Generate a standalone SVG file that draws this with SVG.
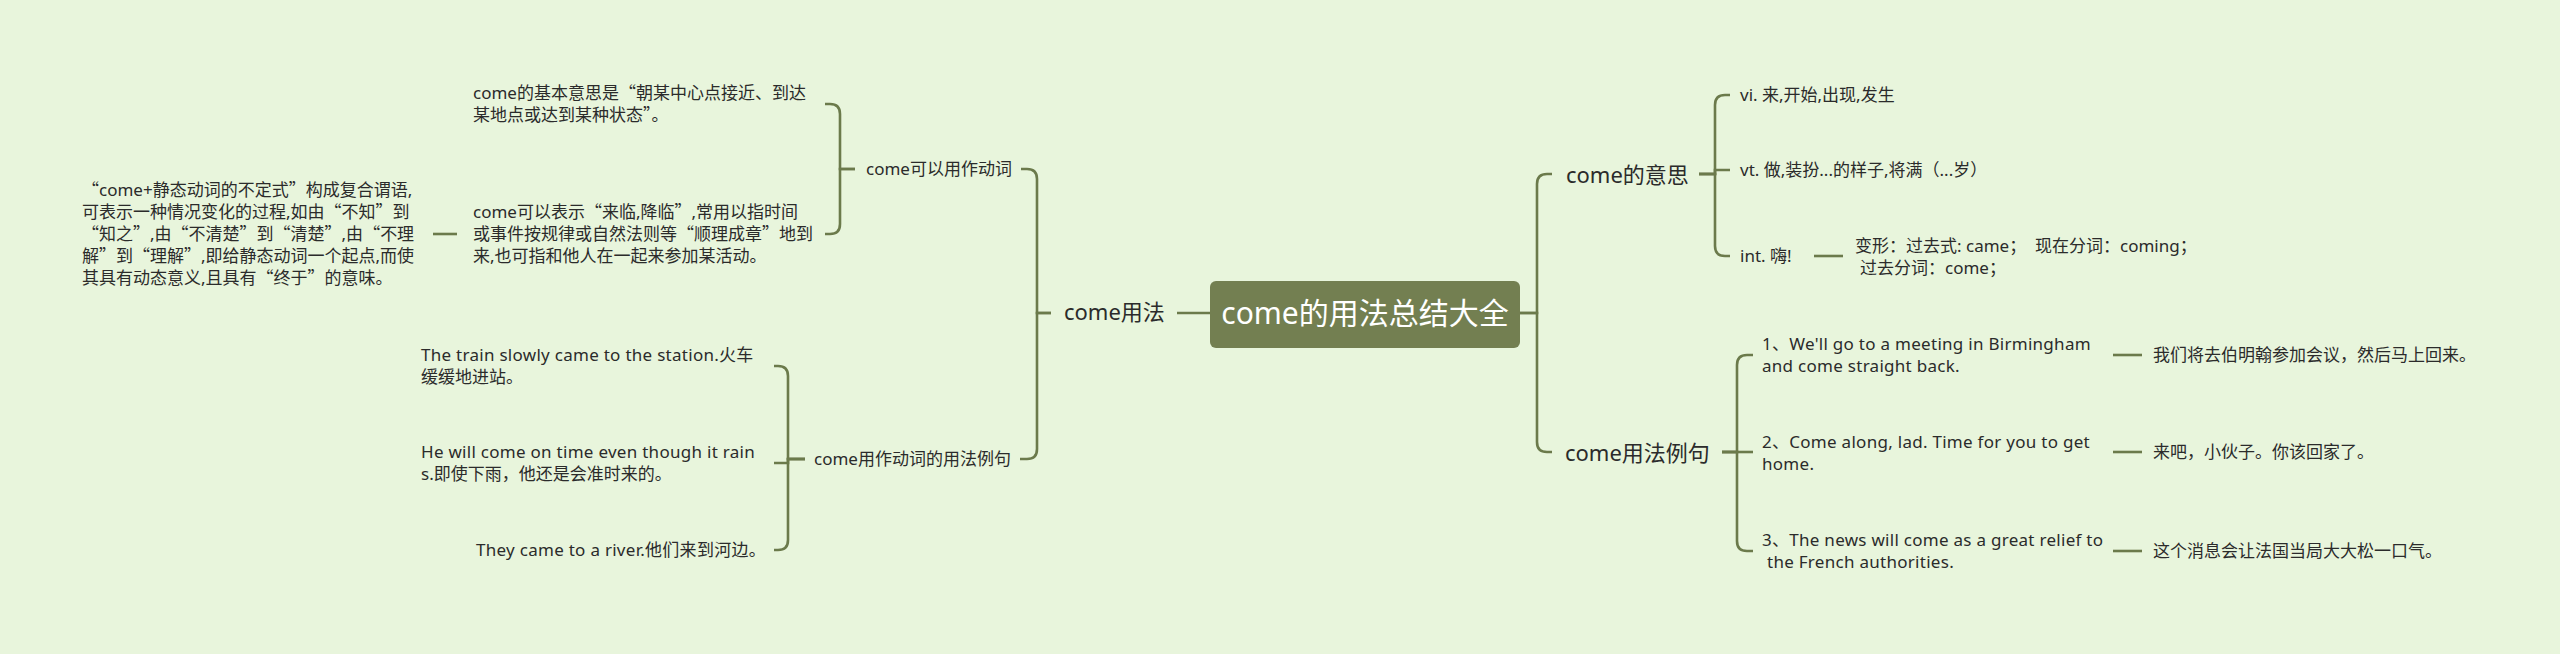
<svg xmlns="http://www.w3.org/2000/svg" width="2560" height="654" viewBox="0 0 2560 654">
<style>
text{font-family:"Noto Sans","Noto Sans CJK SC",sans-serif;fill:#2b2b2b}
.q{font-family:"Noto Sans CJK SC",sans-serif}
.c0{font-size:30px;fill:#ffffff}
.c1{font-size:22px}
.c2{font-size:17px}
.lf{font-size:17px}
.en{letter-spacing:0.28px}
#connectors path{fill:none;stroke:#6b7a4b;stroke-width:2.6}
</style>
<rect x="0" y="0" width="2560" height="654" fill="#e8f5dc"/>
<g id="connectors">
<path d="M1210,313 H1177"/>
<path d="M1051,313 H1037 V179 Q1037,169 1027,169 H1021"/>
<path d="M1051,313 H1037 V449 Q1037,459 1027,459 H1020"/>
<path d="M855,169 H840 V114 Q840,104 830,104 H825"/>
<path d="M855,169 H840 V224 Q840,234 830,234 H825"/>
<path d="M457,234 H433"/>
<path d="M805,459 H788 V376 Q788,366 778,366 H774"/>
<path d="M805,459 H788 V463 H774"/>
<path d="M805,459 H788 V540 Q788,550 778,550 H774"/>
<path d="M1520,313 H1537 V184 Q1537,174 1547,174 H1552"/>
<path d="M1520,313 H1537 V442 Q1537,452 1547,452 H1552"/>
<path d="M1699,174 H1715 V105 Q1715,95 1725,95 H1730"/>
<path d="M1699,174 H1715 V170 H1730"/>
<path d="M1699,174 H1715 V246 Q1715,256 1725,256 H1730"/>
<path d="M1814,256 H1843"/>
<path d="M1722,452 H1737 V365 Q1737,355 1747,355 H1753"/>
<path d="M1722,452 H1753"/>
<path d="M1722,452 H1737 V541 Q1737,551 1747,551 H1753"/>
<path d="M2113,355 H2142"/>
<path d="M2113,452 H2142"/>
<path d="M2113,551 H2142"/>
</g>
<g id="root">
<rect x="1210" y="281" width="310" height="67" rx="6" fill="#737f51"/>
<text class="c0" x="1365" y="324" text-anchor="middle">come的用法总结大全</text>
</g>
<g id="n-usage">
<text class="c1" x="1064" y="320">come用法</text>
</g>
<g id="n-verb">
<text class="c2" x="866" y="175">come可以用作动词</text>
</g>
<g id="n-verb-1">
<text class="lf" x="473" y="99">come的基本意思是<tspan class="q">“</tspan>朝某中心点接近、到达</text>
<text class="lf" x="473" y="121">某地点或达到某种状态<tspan class="q">”</tspan>。</text>
</g>
<g id="n-verb-2">
<text class="lf" x="473" y="218">come可以表示<tspan class="q">“</tspan>来临,降临<tspan class="q">”</tspan>,常用以指时间</text>
<text class="lf" x="473" y="240">或事件按规律或自然法则等<tspan class="q">“</tspan>顺理成章<tspan class="q">”</tspan>地到</text>
<text class="lf" x="473" y="262">来,也可指和他人在一起来参加某活动。</text>
</g>
<g id="n-verb-2-1">
<text class="lf" x="82" y="196"><tspan class="q">“</tspan>come+静态动词的不定式<tspan class="q">”</tspan>构成复合谓语,</text>
<text class="lf" x="82" y="218">可表示一种情况变化的过程,如由<tspan class="q">“</tspan>不知<tspan class="q">”</tspan>到</text>
<text class="lf" x="82" y="240"><tspan class="q">“</tspan>知之<tspan class="q">”</tspan>,由<tspan class="q">“</tspan>不清楚<tspan class="q">”</tspan>到<tspan class="q">“</tspan>清楚<tspan class="q">”</tspan>,由<tspan class="q">“</tspan>不理</text>
<text class="lf" x="82" y="262">解<tspan class="q">”</tspan>到<tspan class="q">“</tspan>理解<tspan class="q">”</tspan>,即给静态动词一个起点,而使</text>
<text class="lf" x="82" y="284">其具有动态意义,且具有<tspan class="q">“</tspan>终于<tspan class="q">”</tspan>的意味。</text>
</g>
<g id="n-examples-left">
<text class="c2" x="814" y="465">come用作动词的用法例句</text>
</g>
<g id="n-ex-l1">
<text class="lf en" x="421" y="361">The train slowly came to the station.火车</text>
<text class="lf" x="421" y="383">缓缓地进站。</text>
</g>
<g id="n-ex-l2">
<text class="lf en" x="421" y="458">He will come on time even though it rain</text>
<text class="lf" x="421" y="480">s.即使下雨，他还是会准时来的。</text>
</g>
<g id="n-ex-l3">
<text class="lf en" x="476" y="556">They came to a river.他们来到河边。</text>
</g>
<g id="n-meaning">
<text class="c1" x="1566" y="183">come的意思</text>
</g>
<g id="n-vi">
<text class="lf" x="1740" y="101">vi. 来,开始,出现,发生</text>
</g>
<g id="n-vt">
<text class="lf" x="1740" y="176">vt. 做,装扮...的样子,将满（...岁）</text>
</g>
<g id="n-int">
<text class="lf" x="1740" y="262">int. 嗨!</text>
</g>
<g id="n-forms">
<text class="lf" x="1855" y="252" xml:space="preserve">变形：过去式: came；  现在分词：coming；</text>
<text class="lf" x="1860" y="274">过去分词：come；</text>
</g>
<g id="n-examples-right">
<text class="c1" x="1565" y="461">come用法例句</text>
</g>
<g id="n-ex-r1">
<text class="lf en" x="1762" y="350">1、We'll go to a meeting in Birmingham</text>
<text class="lf en" x="1762" y="372">and come straight back.</text>
</g>
<g id="n-ex-r1-t">
<text class="lf" x="2153" y="361">我们将去伯明翰参加会议，然后马上回来。</text>
</g>
<g id="n-ex-r2">
<text class="lf en" x="1762" y="448">2、Come along, lad. Time for you to get</text>
<text class="lf en" x="1762" y="470">home.</text>
</g>
<g id="n-ex-r2-t">
<text class="lf" x="2153" y="458">来吧，小伙子。你该回家了。</text>
</g>
<g id="n-ex-r3">
<text class="lf en" x="1762" y="546">3、The news will come as a great relief to</text>
<text class="lf en" x="1767" y="568">the French authorities.</text>
</g>
<g id="n-ex-r3-t">
<text class="lf" x="2153" y="557">这个消息会让法国当局大大松一口气。</text>
</g>
</svg>
